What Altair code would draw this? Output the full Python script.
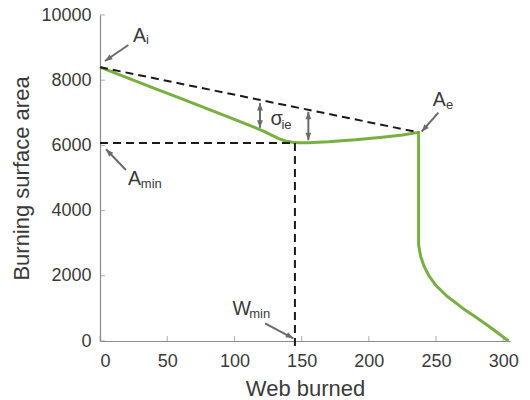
import math
import altair as alt
import pandas as pd

# ---- data ----
web = [0, 20, 40, 60, 80, 100, 115, 122, 128, 133, 138, 143, 148, 155, 170, 190, 210, 225, 237,
       237, 238.5, 241, 245, 250, 258, 270, 280, 290, 304]
area = [8400, 8080, 7760, 7440, 7120, 6800, 6550, 6430, 6310, 6210, 6135, 6095, 6078, 6080, 6110, 6170, 6250, 6320, 6400,
        2950, 2600, 2300, 1980, 1700, 1380, 1000, 720, 430, 0]

x_ticks = [0, 50, 100, 150, 200, 250, 300]
y_ticks = [0, 2000, 4000, 6000, 8000, 10000]

# dashed guide lines (start / end in data units)
guide_x = [0, 0, 145]
guide_y = [8400, 6075, 6075]
guide_x2 = [237, 145, 145]
guide_y2 = [6400, 6075, -200]

# annotation arrows: tail -> tip (data units)
arr_x = [21.1, 251.7, 19.3, 122.8]
arr_y = [9080, 7003, 5245, 543]
arr_x2 = [3.7, 239.3, 4.5, 143.8]
arr_y2 = [8589, 6420, 5880, 83]

# double-headed arrows marking sigma_ie
dbl_x = [119, 155]
dbl_top = [7300, 7030]
dbl_bot = [6540, 6160]

# annotation texts (main letter + subscript)
txt = ["A", "i", "A", "e", "σ", "ie", "A", "min", "W", "min"]
txt_x = [24.5, 34.2, 247.5, 257.3, 126.8, 135.0, 20.8, 30.4, 98.5, 111.0]
txt_y = [9181, 9100, 7209, 7107, 6626, 6508, 4785, 4683, 798, 696]
txt_size = [19.5, 13, 19.5, 13, 20, 13, 19.5, 13, 19.5, 13]

# ---- layout ----
W, H = 410, 326
XMAX, YMAX = 305, 10000
FONT = "Liberation Sans"
GRAY = "#6b6b6b"
TXT = "#3a3a3a"

xs = alt.Scale(domain=[0, XMAX], nice=False, zero=False)
ys = alt.Scale(domain=[0, YMAX], nice=False)

curve = pd.DataFrame({"x": web, "y": area, "i": range(len(web))})
guides = pd.DataFrame({"x": guide_x, "y": guide_y, "x2": guide_x2, "y2": guide_y2})
arrows = pd.DataFrame({"x": arr_x, "y": arr_y, "x2": arr_x2, "y2": arr_y2})
dbl = pd.DataFrame({"x": dbl_x, "y": dbl_top, "y2": dbl_bot})
texts = pd.DataFrame({"t": txt, "x": txt_x, "y": txt_y, "s": txt_size})

ppx = W / XMAX
ppy = H / YMAX


def ang(x0, y0, x1, y1):
    dx = (x1 - x0) * ppx
    dy = -(y1 - y0) * ppy
    return math.degrees(math.atan2(dx, -dy)) % 360


heads = []
for a, b, c, d in zip(arr_x, arr_y, arr_x2, arr_y2):
    heads.append({"x": c, "y": d, "a": ang(a, b, c, d)})
for a, t, b in zip(dbl_x, dbl_top, dbl_bot):
    heads.append({"x": a, "y": t, "a": 0})
    heads.append({"x": a, "y": b, "a": 180})
heads = pd.DataFrame(heads)

HEAD = "M0,0L0.9,2.3L-0.9,2.3Z"

base_axis_x = alt.Axis(values=x_ticks, format="d", title="Web burned", labelPadding=11, titlePadding=8)
base_axis_y = alt.Axis(values=y_ticks, format="d", title="Burning surface area", labelPadding=9, titlePadding=7)

line = alt.Chart(curve).mark_line(color="#77b041", strokeWidth=3, strokeJoin="round").encode(
    x=alt.X("x:Q", scale=xs, axis=base_axis_x),
    y=alt.Y("y:Q", scale=ys, axis=base_axis_y),
    order="i:Q",
)

guide = alt.Chart(guides).mark_rule(color="#1a1a1a", strokeWidth=2, strokeDash=[8, 5]).encode(
    x=alt.X("x:Q", scale=xs), y=alt.Y("y:Q", scale=ys), x2="x2:Q", y2="y2:Q"
)

arrow = alt.Chart(arrows).mark_rule(color=GRAY, strokeWidth=2).encode(
    x=alt.X("x:Q", scale=xs), y=alt.Y("y:Q", scale=ys), x2="x2:Q", y2="y2:Q"
)

dbl_arrow = alt.Chart(dbl).mark_rule(color=GRAY, strokeWidth=2).encode(
    x=alt.X("x:Q", scale=xs), y=alt.Y("y:Q", scale=ys), y2="y2:Q"
)

head = alt.Chart(heads).mark_point(shape=HEAD, filled=True, color=GRAY, opacity=1, size=42).encode(
    x=alt.X("x:Q", scale=xs), y=alt.Y("y:Q", scale=ys), angle=alt.Angle("a:Q", scale=None)
)

label = alt.Chart(texts).mark_text(font=FONT, color=TXT, align="left", baseline="alphabetic").encode(
    x=alt.X("x:Q", scale=xs), y=alt.Y("y:Q", scale=ys), text="t:N", size=alt.Size("s:Q", scale=None)
)

xt = alt.Chart(pd.DataFrame({"x": x_ticks})).mark_tick(
    orient="vertical", color="#8c8c8c", size=5, thickness=1, yOffset=-2.5
).encode(x=alt.X("x:Q", scale=xs), y=alt.datum(0))

yt = alt.Chart(pd.DataFrame({"y": y_ticks})).mark_tick(
    orient="horizontal", color="#8c8c8c", size=5, thickness=1, xOffset=2.5
).encode(y=alt.Y("y:Q", scale=ys), x=alt.datum(0))

chart = alt.layer(line, guide, arrow, dbl_arrow, head, label, xt, yt).properties(
    width=W, height=H,
    autosize=alt.AutoSizeParams(type="none"),
    padding={"left": 100, "top": 15, "right": 20, "bottom": 59},
    background="white",
).configure_view(stroke=None).configure_axis(
    grid=False, ticks=False, domainColor="#8c8c8c", domainWidth=1.2,
    labelFont=FONT, labelFontSize=18, labelColor=TXT,
    titleFont=FONT, titleFontSize=22, titleFontWeight="normal", titleColor=TXT,
)

chart.save("out.html", embed_options={"renderer": "svg", "actions": False})
